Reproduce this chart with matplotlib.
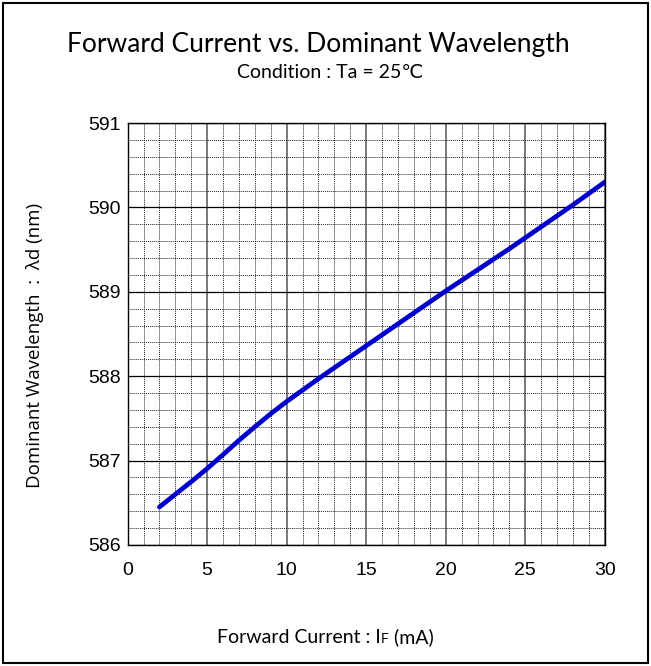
import numpy as np
import matplotlib.pyplot as plt
from matplotlib.patches import Rectangle
from matplotlib.ticker import MultipleLocator
from matplotlib.offsetbox import TextArea, HPacker, AnchoredOffsetbox

# forward current (mA) vs dominant wavelength (nm)
current = [2, 3, 4, 5, 6, 7, 8, 9, 10, 11, 12, 13, 14, 15, 16, 17, 18, 19, 20,
           21, 22, 23, 24, 25, 26, 27, 28, 29, 30]
wavelength = [586.45, 586.6, 586.75, 586.905, 587.07, 587.24, 587.40, 587.555, 587.70,
              587.835, 587.97, 588.10, 588.23, 588.36, 588.49, 588.62, 588.75, 588.88,
              589.01, 589.135, 589.26, 589.385, 589.51, 589.64, 589.77, 589.90, 590.03,
              590.165, 590.30]

fig = plt.figure(figsize=(6.51, 6.66), dpi=100)
fig.patches.append(Rectangle((0.005, 0.005), 0.99, 0.99, transform=fig.transFigure,
                             fill=False, edgecolor='black', linewidth=1.5))

ax = fig.add_axes([0.196, 0.1817, 0.733, 0.6336])
ax.plot(current, wavelength, color='#0000CC', linewidth=3.4, solid_capstyle='round',
        solid_joinstyle='round', zorder=3)

ax.set_xlim(0, 30)
ax.set_ylim(586, 591)
ax.xaxis.set_major_locator(MultipleLocator(5))
ax.xaxis.set_minor_locator(MultipleLocator(1))
ax.yaxis.set_major_locator(MultipleLocator(1))
ax.yaxis.set_minor_locator(MultipleLocator(0.2))
ax.grid(which='minor', color='#222222', linestyle=(0, (1, 1)), linewidth=0.7)
ax.grid(which='major', axis='y', color='black', linestyle='-', linewidth=0.9)
ax.grid(which='major', axis='x', color='#555555', linestyle='-', linewidth=1.1)
ax.tick_params(which='both', length=0, labelsize=14)
ax.tick_params(axis='x', pad=12)
ax.tick_params(axis='y', pad=5)
for lbl in ax.get_xticklabels() + ax.get_yticklabels():
    lbl.set_fontfamily('Liberation Sans')
for s in ax.spines.values():
    s.set_linewidth(1.0)

fig.text(0.489, 0.922, 'Forward Current vs. Dominant Wavelength', ha='center', va='baseline',
         fontsize=19, family=['Lato', 'DejaVu Sans'])
fig.text(0.507, 0.883, 'Condition : Ta = 25\u2103', ha='center', va='baseline',
         fontsize=14, family=['Lato', 'DejaVu Sans'])

fig.text(0.054, 0.482, 'Dominant Wavelength  :  \u03bbd (nm)', rotation=90, ha='center', va='center',
         fontsize=13.5, family='Open Sans')

parts = [TextArea('Forward Current : I', textprops=dict(fontsize=14, family='Lato')),
         TextArea('F', textprops=dict(fontsize=10, family='Lato')),
         TextArea(' (mA)', textprops=dict(fontsize=14, family='Lato'))]
box = HPacker(children=parts, align='baseline', pad=0, sep=0)
anch = AnchoredOffsetbox(loc='center', child=box, frameon=False,
                         bbox_to_anchor=(0.5, 0.043), bbox_transform=fig.transFigure, borderpad=0)
fig.add_artist(anch)

fig.savefig('out.png', dpi=100)
